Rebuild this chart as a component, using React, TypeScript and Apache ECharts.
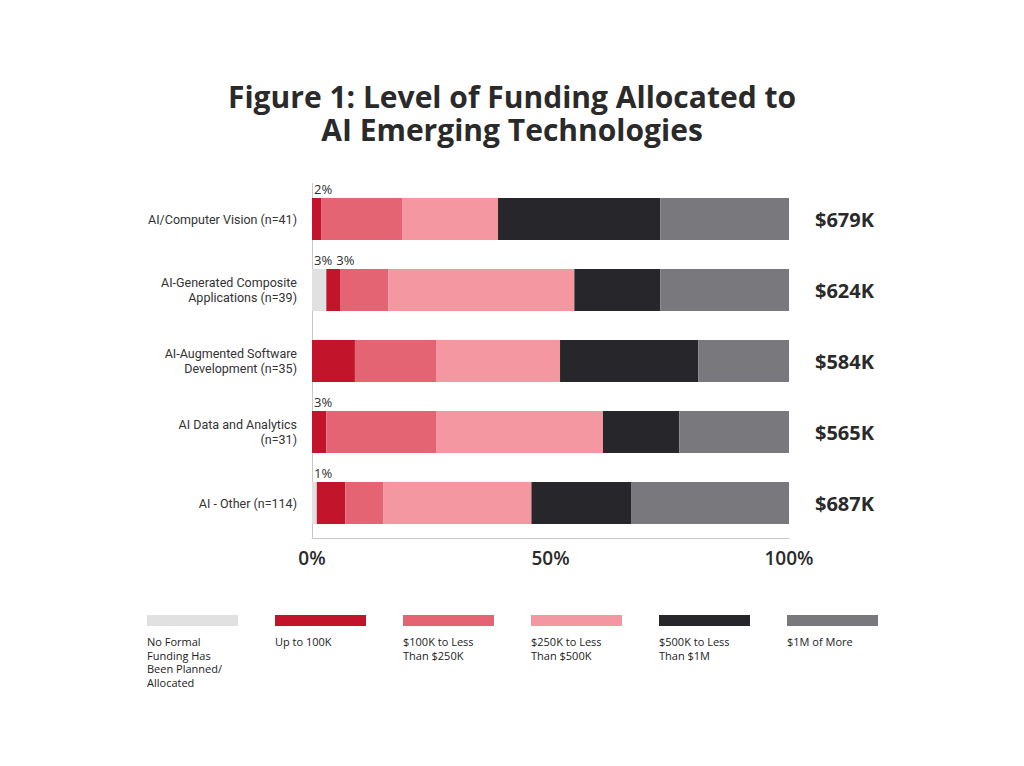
import React, { useEffect, useRef } from "react";
import * as echarts from "echarts";

const titleLines = ["Figure 1: Level of Funding Allocated to", "AI Emerging Technologies"];

const categories = [
  "AI/Computer Vision (n=41)",
  "AI-Generated Composite\nApplications (n=39)",
  "AI-Augmented Software\nDevelopment (n=35)",
  "AI Data and Analytics\n(n=31)",
  "AI - Other (n=114)",
];
const averages = ["$679K", "$624K", "$584K", "$565K", "$687K"];

const seriesNames = [
  "No Formal Funding Has Been Planned/Allocated",
  "Up to 100K",
  "$100K to Less Than $250K",
  "$250K to Less Than $500K",
  "$500K to Less Than $1M",
  "$1M of More",
];
const legendLabels = [
  "No Formal\nFunding Has\nBeen Planned/\nAllocated",
  "Up to 100K",
  "$100K to Less\nThan $250K",
  "$250K to Less\nThan $500K",
  "$500K to Less\nThan $1M",
  "$1M of More",
];
const colors = ["#e1e1e1", "#c2152c", "#e46473", "#f497a1", "#27262a", "#79787c"];

const noFormal = [0, 3, 0, 0, 1];
const upTo100K = [2, 3, 9, 3, 6];
const k100to250 = [17, 10, 17, 23, 8];
const k250to500 = [20, 39, 26, 35, 31];
const k500to1M = [34, 18, 29, 16, 21];
const m1OrMore = [27, 27, 19, 23, 33];
const seriesValues = [noFormal, upTo100K, k100to250, k250to500, k500to1M, m1OrMore];

const xTicks = { min: 0, max: 100, interval: 50 };

const HEAD = "'Open Sans', 'Noto Sans', sans-serif";

export default function App() {
  const ref = useRef<HTMLDivElement>(null);
  useEffect(() => {
    if (!ref.current) return;
    const chart = echarts.init(ref.current, null, { renderer: "svg" });

    const series = seriesValues.map((vals, si) => ({
      name: seriesNames[si],
      type: "bar",
      stack: "total",
      barWidth: 42,
      itemStyle: { color: colors[si] },
      data: vals.map((v, ci) => {
        const small = v > 0 && v < 5;
        const prevSmall = si > 0 && seriesValues[si - 1][ci] > 0 && seriesValues[si - 1][ci] < 5;
        return {
          value: v,
          label: {
            show: small,
            position: [prevSmall ? 10 : 2, -16],
            formatter: "{c}%",
            color: "#2e2e2e",
            fontSize: 13,
            fontFamily: HEAD,
            fontWeight: 500,
          },
        };
      }),
    }));

    const graphic: any[] = [];
    legendLabels.forEach((lab, i) => {
      const x = 147 + 128 * i;
      graphic.push({
        type: "rect",
        left: x,
        top: 615,
        shape: { width: 91, height: 11 },
        style: { fill: colors[i] },
      });
      graphic.push({
        type: "text",
        left: x,
        top: 635,
        style: {
          text: lab,
          fill: "#222",
          font: `500 11px ${HEAD}`,
          lineHeight: 13.5,
        },
      });
    });

    chart.setOption({
      animation: false,
      title: titleLines.map((t, i) => ({
        text: t,
        left: "center",
        top: 80 + 33 * i,
        padding: 0,
        textStyle: {
          fontFamily: HEAD,
          fontWeight: 700,
          fontSize: 30,
          lineHeight: 33,
          color: "#2a2a2a",
        },
      })),
      grid: { left: 312, right: 235, top: 183.5, height: 355, containLabel: false },
      xAxis: {
        type: "value",
        min: xTicks.min,
        max: xTicks.max,
        interval: xTicks.interval,
        axisLine: { show: true, lineStyle: { color: "#c8c8c8", width: 1 } },
        axisTick: { show: false },
        splitLine: { show: false },
        axisLabel: {
          formatter: "{value}%",
          fontFamily: HEAD,
          fontSize: 19,
          fontWeight: 600,
          color: "#2a2a2a",
          margin: 10,
        },
      },
      yAxis: [
        {
          type: "category",
          data: categories,
          inverse: true,
          axisLine: { show: true, lineStyle: { color: "#c8c8c8", width: 1 } },
          axisTick: { show: false },
          axisLabel: {
            fontFamily: "Roboto, sans-serif",
            fontSize: 12.5,
            lineHeight: 15,
            color: "#333",
            margin: 15,
            align: "right",
          },
        },
        {
          type: "category",
          data: averages,
          inverse: true,
          position: "right",
          axisLine: { show: false },
          axisTick: { show: false },
          axisLabel: {
            fontFamily: HEAD,
            fontSize: 20,
            fontWeight: 700,
            color: "#2a2a2a",
            margin: 26,
            align: "left",
          },
        },
      ],
      series,
      graphic,
    });
    return () => chart.dispose();
  }, []);
  return (
    <div
      ref={ref}
      style={{ position: "fixed", left: 0, top: 0, width: 1024, height: 766, background: "#fff" }}
    />
  );
}
